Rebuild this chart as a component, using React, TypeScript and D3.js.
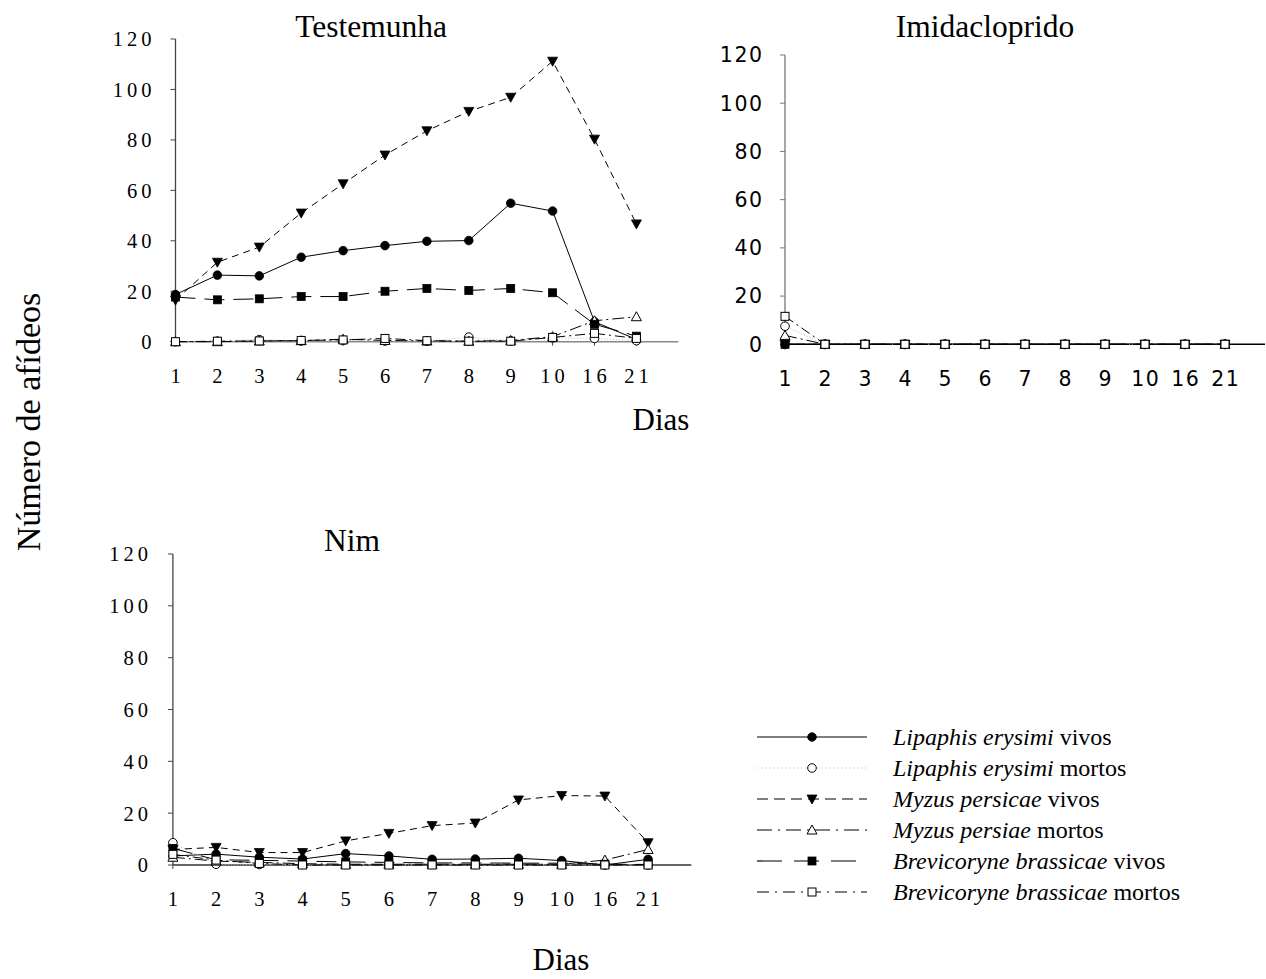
import React from "react";
import * as d3 from "d3";

const days = ["1", "2", "3", "4", "5", "6", "7", "8", "9", "10", "16", "21"];
const yTicks = [0, 20, 40, 60, 80, 100, 120];

// Testemunha
const testLipVivos = [18.7, 26.4, 26.1, 33.5, 36.1, 38.1, 39.8, 40.1, 54.9, 51.8, 7.9, 0.9];
const testLipMortos = [0, 0.2, 0.8, 0.3, 0.5, 0.3, 0.2, 1.8, 0.3, 1.5, 1.3, 0.4];
const testMyzVivos = [16.5, 31.5, 37.5, 51, 62.6, 74, 83.6, 91.3, 96.9, 111.2, 80.3, 46.7];
const testMyzMortos = [0, 0, 0.3, 0.4, 1, 0.5, 0.3, 0.2, 0.5, 2, 8.3, 9.9];
const testBreVivos = [17.7, 16.6, 17, 17.9, 17.9, 20, 21.1, 20.3, 21.1, 19.4, 6.9, 2.2];
const testBreMortos = [0, 0.2, 0.3, 0.5, 0.7, 1.3, 0.4, 0.2, 0.2, 1.7, 3.3, 1.3];

// Imidacloprido
const imiLipVivos = [0, 0, 0, 0, 0, 0, 0, 0, 0, 0, 0, 0];
const imiLipMortos = [7.5, 0, 0, 0, 0, 0, 0, 0, 0, 0, 0, 0];
const imiMyzVivos = [0, 0, 0, 0, 0, 0, 0, 0, 0, 0, 0, 0];
const imiMyzMortos = [3.7, 0, 0, 0, 0, 0, 0, 0, 0, 0, 0, 0];
const imiBreVivos = [0, 0, 0, 0, 0, 0, 0, 0, 0, 0, 0, 0];
const imiBreMortos = [11.6, 0, 0, 0, 0, 0, 0, 0, 0, 0, 0, 0];

// Nim
const nimLipVivos = [3.5, 4.2, 3, 2.3, 4.4, 3.5, 2.2, 2.3, 2.6, 1.7, 0, 2.2];
const nimLipMortos = [8.6, 0.3, 0.2, 0.2, 0.2, 0.2, 0.2, 0.2, 0.2, 0.2, 0.1, 0];
const nimMyzVivos = [6, 6.8, 4.8, 4.8, 9.3, 12.2, 15.2, 16.2, 25.1, 26.8, 26.6, 8.6];
const nimMyzMortos = [3, 1.5, 1, 0.5, 0.3, 0.3, 0.3, 0.3, 0.3, 0.3, 1.9, 6.0];
const nimBreVivos = [6.4, 2, 1.8, 1.5, 1.2, 1, 0.8, 0.8, 0.7, 0.7, 0.3, 0.2];
const nimBreMortos = [4.1, 1.9, 0.6, 0, 0, 0, 0, 0, 0, 0, 0, 0];

const seriesNames = [
  { it: "Lipaphis erysimi", rest: " vivos" },
  { it: "Lipaphis erysimi", rest: " mortos" },
  { it: "Myzus persicae", rest: " vivos" },
  { it: "Myzus persiae", rest: " mortos" },
  { it: "Brevicoryne brassicae", rest: " vivos" },
  { it: "Brevicoryne brassicae", rest: " mortos" },
];

const seriesStyle = [
  { marker: "circle", stroke: "#000", dash: "", legendDash: "", width: 1 },
  { marker: "ocircle", stroke: "#bbb", dash: "1,2", legendDash: "1,3", width: 1 },
  { marker: "tri", stroke: "#000", dash: "7,5", legendDash: "11,6", width: 1 },
  { marker: "otri", stroke: "#000", dash: "12,4,2,4", legendDash: "15,6,2,6", width: 1 },
  { marker: "square", stroke: "#000", dash: "20,9", legendDash: "25,12", width: 1 },
  { marker: "osquare", stroke: "#000", dash: "10,4,2,4", legendDash: "12,6,2,6", width: 1 },
];

const SERIF = "'Liberation Serif', 'Times New Roman', serif";
const SANS = "'DejaVu Sans', Verdana, sans-serif";

const panels = [
  {
    title: "Testemunha", titleX: 371, titleY: 37,
    x0: 175.5, step: 41.9, yTop: 39, yBot: 341.7,
    tickFont: SERIF, tickSpacing: 4, xLabelY: 383, yLabelOff: 24,
    xAxisColor: "#888", yAxisColor: "#444", xTicks: true,
    data: [testLipVivos, testLipMortos, testMyzVivos, testMyzMortos, testBreVivos, testBreMortos],
  },
  {
    title: "Imidacloprido", titleX: 985, titleY: 37,
    x0: 785, step: 40, yTop: 55, yBot: 344.3,
    tickFont: SANS, tickSpacing: 1.5, xLabelY: 386, yLabelOff: 23,
    xAxisColor: "#000", yAxisColor: "#777", xTicks: false,
    data: [imiLipVivos, imiLipMortos, imiMyzVivos, imiMyzMortos, imiBreVivos, imiBreMortos],
  },
  {
    title: "Nim", titleX: 352, titleY: 551,
    x0: 172.9, step: 43.2, yTop: 554, yBot: 865,
    tickFont: SERIF, tickSpacing: 4, xLabelY: 906, yLabelOff: 25,
    xAxisColor: "#333", yAxisColor: "#444", xTicks: true,
    data: [nimLipVivos, nimLipMortos, nimMyzVivos, nimMyzMortos, nimBreVivos, nimBreMortos],
  },
];

function Marker({ type, x, y }: { type: string; x: number; y: number }) {
  if (type === "circle") return <circle cx={x} cy={y} r={4.3} fill="#000" stroke="#000" strokeWidth={0.8} />;
  if (type === "ocircle") return <circle cx={x} cy={y} r={4.3} fill="#fff" stroke="#000" strokeWidth={1} />;
  if (type === "square") return <rect x={x - 4} y={y - 4} width={8} height={8} fill="#000" stroke="#000" strokeWidth={0.8} />;
  if (type === "osquare") return <rect x={x - 4} y={y - 4} width={8} height={8} fill="#fff" stroke="#000" strokeWidth={1} />;
  if (type === "tri") return <path d={`M${x - 5},${y - 4}L${x + 5},${y - 4}L${x},${y + 5}Z`} fill="#000" stroke="#000" strokeWidth={0.8} />;
  if (type === "otri") return <path d={`M${x - 5},${y + 4}L${x + 5},${y + 4}L${x},${y - 5}Z`} fill="#fff" stroke="#000" strokeWidth={1} />;
  return null;
}

function Panel({ p }: { p: any }) {
  const x = d3.scalePoint<string>().domain(days).range([p.x0, p.x0 + p.step * (days.length - 1)]);
  const y = d3.scaleLinear().domain([0, 120]).range([p.yBot, p.yTop]);
  const line = d3.line<number>().x((_, i) => x(days[i]) as number).y((v) => y(v));
  const xEnd = p.x0 + p.step * days.length;
  return (
    <g>
      <text x={p.titleX} y={p.titleY} textAnchor="middle" fontFamily={SERIF} fontSize={31.5}>{p.title}</text>
      <line x1={p.x0} x2={p.x0} y1={y(120)} y2={y(0)} stroke={p.yAxisColor} strokeWidth={1.3} />
      {yTicks.map((t) => (
        <g key={t}>
          <line x1={p.x0 - 5} x2={p.x0} y1={y(t)} y2={y(t)} stroke={p.yAxisColor} strokeWidth={1} />
          <text x={p.x0 - p.yLabelOff + p.tickSpacing} y={y(t)} dy="0.36em" textAnchor="end" fontFamily={p.tickFont}
            fontSize={20.5} letterSpacing={p.tickSpacing}>{t}</text>
        </g>
      ))}
      <line x1={p.x0} x2={xEnd} y1={y(0)} y2={y(0)} stroke={p.xAxisColor} strokeWidth={1.5} />
      {days.map((d) => (
        <g key={d}>
          {p.xTicks && <line x1={x(d)} x2={x(d)} y1={y(0)} y2={y(0) + 4} stroke="#444" strokeWidth={1} />}
          <text x={(x(d) as number) + p.tickSpacing / 2} y={p.xLabelY} textAnchor="middle" fontFamily={p.tickFont}
            fontSize={20.5} letterSpacing={p.tickSpacing}>{d}</text>
        </g>
      ))}
      {p.data.map((vals: number[], si: number) => (
        <path key={"l" + si} d={line(vals) || ""} fill="none" stroke={seriesStyle[si].stroke}
          strokeWidth={seriesStyle[si].width} strokeDasharray={seriesStyle[si].dash} />
      ))}
      {p.data.map((vals: number[], si: number) => (
        <g key={"m" + si}>
          {vals.map((v, i) => (
            <Marker key={i} type={seriesStyle[si].marker} x={x(days[i]) as number} y={y(v)} />
          ))}
        </g>
      ))}
    </g>
  );
}

function Legend() {
  const ly = d3.scalePoint<number>().domain(d3.range(seriesNames.length)).range([737, 892]);
  return (
    <g>
      {seriesNames.map((s, i) => {
        const yy = ly(i) as number;
        const st = seriesStyle[i];
        return (
          <g key={i}>
            <line x1={757} x2={867} y1={yy} y2={yy} stroke={st.stroke} strokeWidth={1.2} strokeDasharray={st.legendDash} />
            <Marker type={st.marker} x={812} y={yy} />
            <text x={893} y={yy + 8} fontFamily={SERIF} fontSize={24}>
              <tspan fontStyle="italic">{s.it}</tspan>
              <tspan>{s.rest}</tspan>
            </text>
          </g>
        );
      })}
    </g>
  );
}

export default function App() {
  return (
    <svg width={1266} height={979} style={{ position: "absolute", left: 0, top: 0, background: "#fff" }}>
      <rect width={1266} height={979} fill="#fff" />
      {panels.map((p) => <Panel key={p.title} p={p} />)}
      <text x={661} y={430} textAnchor="middle" fontFamily={SERIF} fontSize={31}>Dias</text>
      <text x={561} y={970} textAnchor="middle" fontFamily={SERIF} fontSize={31}>Dias</text>
      <text transform="translate(40,422) rotate(-90)" textAnchor="middle" fontFamily={SERIF} fontSize={34}>Número de afídeos</text>
      <Legend />
    </svg>
  );
}
